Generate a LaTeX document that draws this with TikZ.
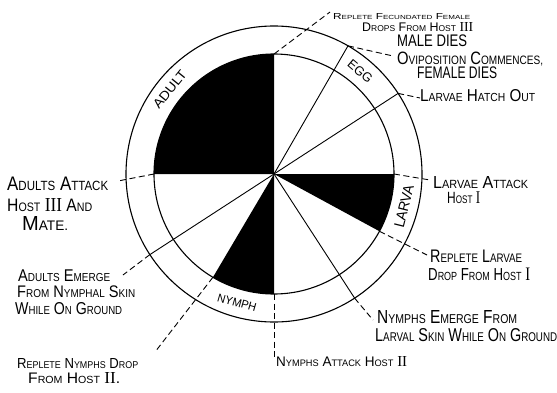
\documentclass[tikz,border=0pt]{standalone}
\usepackage{fontspec}
\setmainfont{Liberation Sans}
\newfontfamily\romfont{Liberation Serif}
\usetikzlibrary{calc}
\newcommand\Wd[1]{\Wdaux#1\relax}
\def\Wdaux#1#2\relax{{\fontsize{10}{10}\selectfont#1}{\fontsize{6.8}{7}\selectfont\uppercase{#2}}}
\newcommand\Rn[1]{{\romfont\fontsize{11}{11}\selectfont#1}}
\newcommand\Fit[3]{\resizebox{#1pt}{#2pt}{\fontsize{10}{10}\selectfont#3}}
\tikzset{
  lab/.style={inner sep=0pt, anchor=base west},
  ring/.style={line width=1.1pt},
  spoke/.style={line width=0.9pt},
  leader/.style={line width=0.9pt, dash pattern=on 6pt off 3.5pt},
  band/.style={inner sep=0pt, anchor=center}
}
\begin{document}
\begin{tikzpicture}[x=1pt,y=1pt]
\useasboundingbox (0,0) rectangle (557,392);
\coordinate (c) at (274,218);
% points on the circles
\coordinate (i90) at ($(c)+(90:120)$);
\coordinate (i180) at ($(c)+(180:120)$);
\coordinate (i0) at ($(c)+(0:120)$);
\coordinate (im28) at ($(c)+(-28.5:120)$);
\coordinate (i239) at ($(c)+(239.4:120)$);
\coordinate (i270) at ($(c)+(270:120)$);
\coordinate (o60) at ($(c)+(60:148)$);
\coordinate (o33) at ($(c)+(33:148)$);
\coordinate (om57) at ($(c)+(-57:148)$);
\coordinate (o213) at ($(c)+(213:148)$);
% black sectors
\fill (c) -- (i90) arc[start angle=90,end angle=180,radius=120] -- cycle;
\fill (c) -- (i0) arc[start angle=0,end angle=-28.5,radius=120] -- cycle;
\fill (c) -- (i239) arc[start angle=239.4,end angle=270,radius=120] -- cycle;
% rings
\draw[ring] (c) circle[radius=120];
\draw[ring] (c) circle[radius=148];
% spokes
\draw[spoke] (c) -- (o60);
\draw[spoke] (c) -- (o33);
\draw[spoke] (c) -- (om57);
\draw[spoke] (c) -- (o213);
% leader ends
\coordinate (ea) at (330,380);
\coordinate (eb) at (393,336);
\coordinate (ec) at (420,294);
\coordinate (ed) at (430,212);
\coordinate (ee) at (427,137);
\coordinate (ef) at (373,72);
\coordinate (eg) at (274,32);
\coordinate (eh) at (155,40);
\coordinate (ei) at (123,117);
\coordinate (ej) at (118,211);
% leaders
\draw[leader] (i90) -- (ea);
\draw[leader] (o60) -- (eb);
\draw[leader] (o33) -- (ec);
\draw[leader] (i0) -- (ed);
\draw[leader] (im28) -- (ee);
\draw[leader] (om57) -- (ef);
\draw[leader] (i270) -- (eg);
\draw[leader] (i239) -- (eh);
\draw[leader] (o213) -- (ei);
\draw[leader] (i180) -- (ej);
% band labels
\node[band, rotate=51] (bA) at ($(c)+(141:134)$) {\Fit{45}{9}{ADULT}};
\node[band, rotate=-40] (bE) at ($(c)+(50:134)$) {\Fit{28}{9}{EGG}};
\node[band, rotate=76] (bL) at ($(c)+(-14:134)$) {\Fit{44}{10}{LARVA}};
\node[band, rotate=-16] (bN) at ($(c)+(254:134)$) {\Fit{40}{8}{NYMPH}};
% labels
\node[lab] (t1) at (333,373) {\Fit{137}{6}{\Wd{Replete} \Wd{Fecundated} \Wd{Female}}};
\node[lab] (t2) at (362,360.3) {\Fit{111}{9}{\Wd{Drops} \Wd{From} \Wd{Host} \Rn{III}}};
\node[lab] (t3) at (397,345.3) {\Fit{70}{11.7}{MALE DIES}};
\node[lab] (t4) at (397,327.5) {\Fit{146}{12.5}{\Wd{Oviposition} \Wd{Commences,}}};
\node[lab] (t5) at (417,313.7) {\Fit{80}{11.7}{FEMALE DIES}};
\node[lab] (t6) at (420,290.3) {\Fit{115}{12}{\Wd{Larvae} \Wd{Hatch} \Wd{Out}}};
\node[lab] (t7) at (433,203.7) {\Fit{95}{12}{\Wd{Larvae} \Wd{Attack}}};
\node[lab] (t8) at (447,188.7) {\Fit{33}{11.7}{\Wd{Host} \Rn{I}}};
\node[lab] (t9) at (430,130) {\Fit{92}{12.5}{\Wd{Replete} \Wd{Larvae}}};
\node[lab] (t10) at (428,112) {\Fit{102}{12.5}{\Wd{Drop} \Wd{From} \Wd{Host} \Rn{I}}};
\node[lab] (t11) at (377,69) {\Fit{140}{13}{\Wd{Nymphs} \Wd{Emerge} \Wd{From}}};
\node[lab] (t12) at (375,50.3) {\Fit{182}{13}{\Wd{Larval} \Wd{Skin} \Wd{While} \Wd{On} \Wd{Ground}}};
\node[lab] (t13) at (276,26) {\Fit{131}{10}{\Wd{Nymphs} \Wd{Attack} \Wd{Host} \Rn{II}}};
\node[lab] (t14) at (17,23.7) {\Fit{121}{10}{\Wd{Replete} \Wd{Nymphs} \Wd{Drop}}};
\node[lab] (t15) at (28,8.7) {\Fit{92}{11}{\Wd{From} \Wd{Host} \Rn{II}.}};
\node[lab] (t16) at (18,110.3) {\Fit{92}{11.7}{\Wd{Adults} \Wd{Emerge}}};
\node[lab] (t17) at (17,94.7) {\Fit{118}{11.7}{\Wd{From} \Wd{Nymphal} \Wd{Skin}}};
\node[lab] (t18) at (15,78) {\Fit{107}{12}{\Wd{While} \Wd{On} \Wd{Ground}}};
\node[lab] (t19) at (7,202) {\Fit{101}{13.5}{\Wd{Adults} \Wd{Attack}}};
\node[lab] (t20) at (7,180.3) {\Fit{85}{13}{\Wd{Host} \Rn{III} \Wd{And}}};
\node[lab] (t21) at (22,162) {\Fit{46}{14}{\Wd{Mate.}}};
\end{tikzpicture}
\end{document}
